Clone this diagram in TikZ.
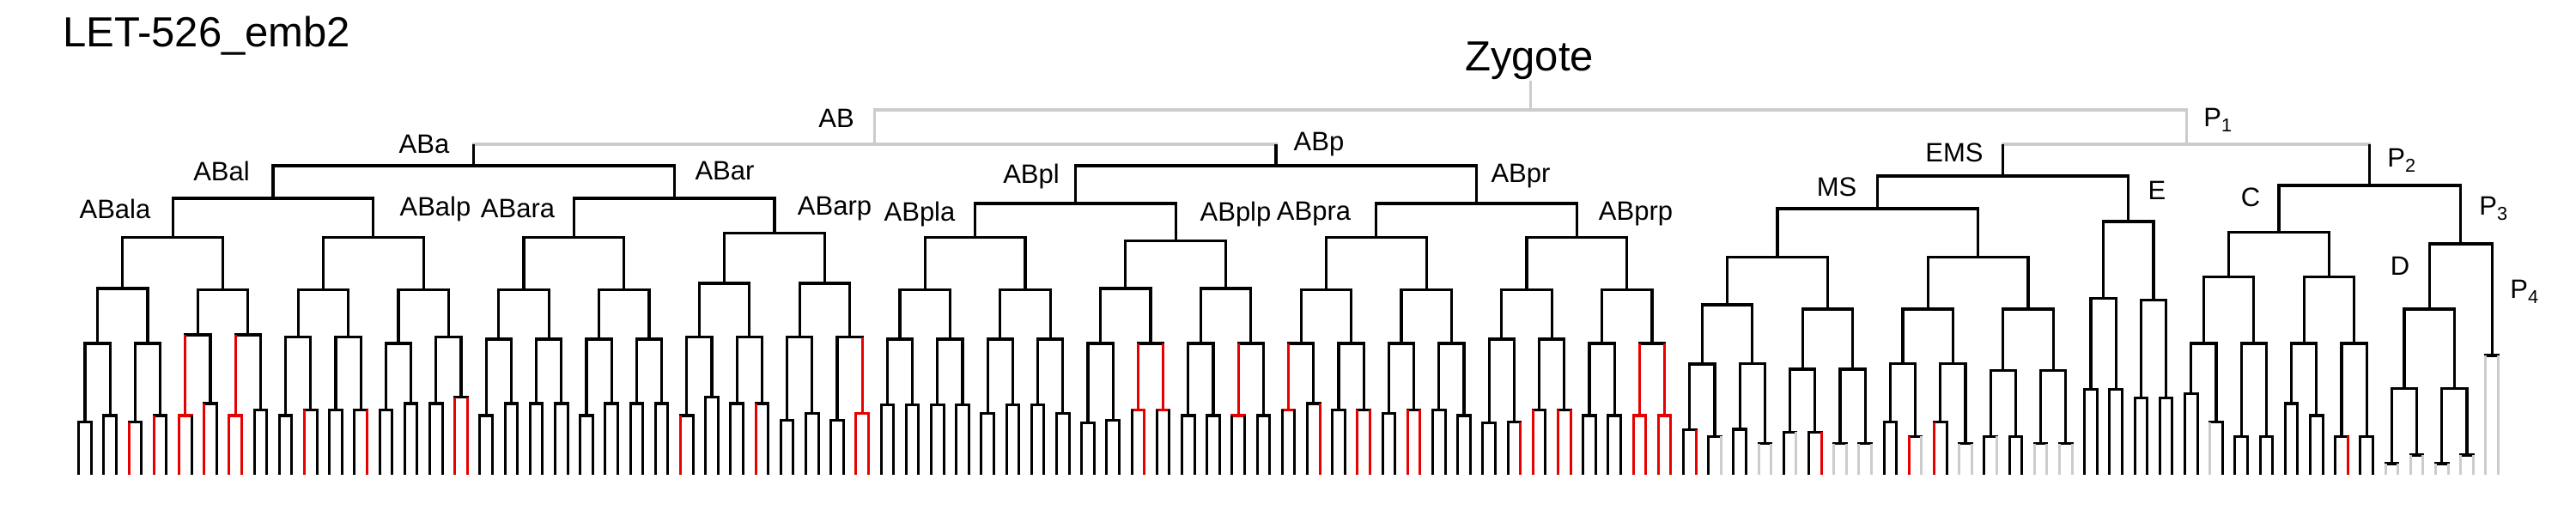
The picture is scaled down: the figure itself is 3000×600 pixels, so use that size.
\documentclass[tikz,border=0pt]{standalone}
\usepackage{fontspec}
\setmainfont{Liberation Sans}
\definecolor{K}{RGB}{0,0,0}
\definecolor{R}{RGB}{230,0,0}
\definecolor{G}{RGB}{204,204,204}
\newcommand\ybot{553.3}
\tikzset{vln/.style={line width=3.1pt,line cap=butt},
  hbr/.style={line width=3.1pt,line cap=rect},
  lbl/.style={inner sep=0pt,font=\fontsize{31}{36}\selectfont},
  big/.style={inner sep=0pt,font=\fontsize{49}{56}\selectfont}}
% node: x, ytop, ybar, xleft, xright, colour
\newcommand\Nd[6]{\draw[hbr,#6] (#4,#3) -- (#5,#3);\draw[vln,#6] (#1,#2) -- (#1,#3);}
% leaf: x, ytop, colour
\newcommand\Lf[3]{\draw[vln,#3] (#1,#2) -- (#1,\ybot);}
% pair of leaves: first index, ytop, ybar, parent colour, leaf colours
\newcommand\Pq[6]{\Nd{#1+0.5}{#2}{#3}{#1}{#1+1}{#4}\Lf{#1}{#3}{#5}\Lf{#1+1}{#3}{#6}}
% AB8 skeleton: base, ytop, y8, y16a, y16b, y32 a..d
\newcommand\Abg[9]{%
  \Nd{#1+7.5}{#2}{#3}{#1+3.5}{#1+11.5}{K}%
  \Nd{#1+3.5}{#3}{#4}{#1+1.5}{#1+5.5}{K}%
  \Nd{#1+11.5}{#3}{#5}{#1+9.5}{#1+13.5}{K}%
  \Nd{#1+1.5}{#4}{#6}{#1+0.5}{#1+2.5}{K}%
  \Nd{#1+5.5}{#4}{#7}{#1+4.5}{#1+6.5}{K}%
  \Nd{#1+9.5}{#5}{#8}{#1+8.5}{#1+10.5}{K}%
  \Nd{#1+13.5}{#5}{#9}{#1+12.5}{#1+14.5}{K}}
\begin{document}
\begin{tikzpicture}[x=1pt,y=-1pt]
\useasboundingbox (0,0) rectangle (3000,600);
\begin{scope}[x=14.6pt,xshift=91.7pt]
% Zygote
\Nd{115.8}{94}{128}{63.5}{168.125}{G}
% AB upper
\Nd{63.5}{128}{168}{31.5}{95.5}{G}
\Nd{31.5}{168}{193}{15.5}{47.5}{K}
\Nd{95.5}{168}{193}{79.5}{111.5}{K}
\Nd{15.5}{193}{231}{7.5}{23.5}{K}
\Nd{47.5}{193}{231}{39.5}{55.5}{K}
\Nd{79.5}{193}{237}{71.5}{87.5}{K}
\Nd{111.5}{193}{237}{103.5}{119.5}{K}
% ABala
\Abg{0}{231}{276.7}{336}{337.3}{400}{400}{390}{390}
\Pq{0}{400}{491.7}{K}{K}{K}\Pq{2}{400}{484}{K}{K}{K}
\Pq{4}{400}{491.7}{K}{R}{K}\Pq{6}{400}{484}{K}{R}{K}
\Pq{8}{390}{484}{R}{R}{K}\Pq{10}{390}{470}{K}{R}{K}
\Pq{12}{390}{484}{R}{R}{R}\Pq{14}{390}{477.3}{K}{K}{K}
% ABalp
\Abg{16}{231}{276.7}{337.3}{337.3}{392.7}{392.7}{400}{392.7}
\Pq{16}{392.7}{484}{K}{K}{K}\Pq{18}{392.7}{477.3}{K}{R}{K}
\Pq{20}{392.7}{477.3}{K}{K}{K}\Pq{22}{392.7}{477.3}{K}{K}{R}
\Pq{24}{400}{477.3}{K}{K}{K}\Pq{26}{400}{470}{K}{K}{K}
\Pq{28}{392.7}{470}{K}{K}{K}\Pq{30}{392.7}{462.7}{K}{R}{R}
% ABara
\Abg{32}{231}{276.7}{337.3}{337.3}{395}{395}{395}{395}
\Pq{32}{395}{484}{K}{K}{K}\Pq{34}{395}{470}{K}{K}{K}
\Pq{36}{395}{470}{K}{K}{K}\Pq{38}{395}{470}{K}{K}{K}
\Pq{40}{395}{484}{K}{K}{K}\Pq{42}{395}{470}{K}{K}{K}
\Pq{44}{395}{470}{K}{K}{K}\Pq{46}{395}{470}{K}{K}{K}
% ABarp
\Abg{48}{231}{271.7}{330}{330}{392.7}{392.7}{392.7}{392.7}
\Pq{48}{392.7}{484}{K}{R}{K}\Pq{50}{392.7}{462.7}{K}{K}{K}
\Pq{52}{392.7}{470}{K}{K}{K}\Pq{54}{392.7}{470}{K}{R}{K}
\Pq{56}{392.7}{489.3}{K}{K}{K}\Pq{58}{392.7}{481.7}{K}{K}{K}
\Pq{60}{392.7}{489.3}{K}{K}{K}\Pq{62}{392.7}{481.7}{R}{R}{R}
% ABpla
\Abg{64}{237}{276.7}{337.3}{337.3}{395}{395}{395}{395}
\Pq{64}{395}{471.7}{K}{K}{K}\Pq{66}{395}{471.7}{K}{K}{K}
\Pq{68}{395}{471.7}{K}{K}{K}\Pq{70}{395}{471.7}{K}{K}{K}
\Pq{72}{395}{481.7}{K}{K}{K}\Pq{74}{395}{471.7}{K}{K}{K}
\Pq{76}{395}{471.7}{K}{K}{K}\Pq{78}{395}{481.7}{K}{K}{K}
% ABplp
\Abg{80}{237}{280.7}{336}{336}{400}{400}{400}{400}
\Pq{80}{400}{492.7}{K}{K}{K}\Pq{82}{400}{489.3}{K}{K}{K}
\Pq{84}{400}{477.3}{R}{K}{R}\Pq{86}{400}{477.3}{R}{K}{K}
\Pq{88}{400}{484}{K}{K}{K}\Pq{90}{400}{484}{K}{K}{K}
\Pq{92}{400}{484}{R}{K}{K}\Pq{94}{400}{484}{K}{K}{K}
% ABpra
\Abg{96}{237}{276.7}{337.3}{337.3}{400}{400}{400}{400}
\Pq{96}{400}{477.3}{R}{K}{K}\Pq{98}{400}{470}{K}{K}{R}
\Pq{100}{400}{477.3}{K}{K}{K}\Pq{102}{400}{477.3}{K}{R}{R}
\Pq{104}{400}{481.7}{K}{K}{K}\Pq{106}{400}{477.3}{K}{R}{R}
\Pq{108}{400}{477.3}{K}{K}{K}\Pq{110}{400}{484}{K}{K}{K}
% ABprp
\Abg{112}{237}{276.7}{337.3}{337.3}{395}{395}{400}{400}
\Pq{112}{395}{492.7}{K}{K}{K}\Pq{114}{395}{491.7}{K}{K}{R}
\Pq{116}{395}{477.3}{K}{R}{K}\Pq{118}{395}{477.3}{K}{R}{R}
\Pq{120}{400}{484}{K}{K}{K}\Pq{122}{400}{484}{K}{K}{K}
\Pq{124}{400}{484}{R}{R}{R}\Pq{126}{400}{484}{R}{R}{R}
% P1, EMS, MS
\Nd{168.125}{128}{168}{153.5}{182.75}{G}
\Nd{153.5}{168}{205}{143.5}{163.5}{K}
\Nd{143.5}{205}{243}{135.5}{151.5}{K}
\Nd{135.5}{243}{299.3}{131.5}{139.5}{K}
\Nd{131.5}{299.3}{355}{129.5}{133.5}{K}
\Nd{129.5}{355}{424}{128.5}{130.5}{K}
\Pq{128}{424}{500.7}{K}{K}{R}\Pq{130}{424}{508.3}{K}{K}{G}
\Nd{133.5}{355}{423.3}{132.5}{134.5}{K}
\Pq{132}{423.3}{500}{K}{K}{K}\Pq{134}{423.3}{516.7}{K}{G}{G}
\Nd{139.5}{299.3}{360}{137.5}{141.5}{K}
\Nd{137.5}{360}{430}{136.5}{138.5}{K}
\Pq{136}{430}{503.3}{K}{K}{G}\Pq{138}{430}{503.3}{K}{K}{R}
\Nd{141.5}{360}{430}{140.5}{142.5}{K}
\Pq{140}{430}{516.7}{K}{G}{G}\Pq{142}{430}{516.7}{K}{G}{G}
\Nd{151.5}{243}{299.3}{147.5}{155.5}{K}
\Nd{147.5}{299.3}{360}{145.5}{149.5}{K}
\Nd{145.5}{360}{423.3}{144.5}{146.5}{K}
\Pq{144}{423.3}{491.7}{K}{K}{K}\Pq{146}{423.3}{508.3}{K}{R}{G}
\Nd{149.5}{360}{423.3}{148.5}{150.5}{K}
\Pq{148}{423.3}{491.7}{K}{R}{K}\Pq{150}{423.3}{516.7}{K}{G}{G}
\Nd{155.5}{299.3}{360}{153.5}{157.5}{K}
\Nd{153.5}{360}{431.7}{152.5}{154.5}{K}
\Pq{152}{431.7}{508.3}{K}{K}{G}\Pq{154}{431.7}{508.3}{K}{K}{K}
\Nd{157.5}{360}{431.7}{156.5}{158.5}{K}
\Pq{156}{431.7}{516.7}{K}{G}{G}\Pq{158}{431.7}{516.7}{K}{G}{G}
% E
\Nd{163.5}{205}{258}{161.5}{165.5}{K}
\Nd{161.5}{258}{347.3}{160.5}{162.5}{K}
\Pq{160}{347.3}{453.3}{K}{K}{K}\Pq{162}{347.3}{453.3}{K}{K}{K}
\Nd{165.5}{258}{349.3}{164.5}{166.5}{K}
\Pq{164}{349.3}{463.3}{K}{K}{K}\Pq{166}{349.3}{463.3}{K}{K}{K}
% P2, C
\Nd{182.75}{168}{216}{175.5}{190}{K}
\Nd{175.5}{216}{270.7}{171.5}{179.5}{K}
\Nd{171.5}{270.7}{322.7}{169.5}{173.5}{K}
\Nd{169.5}{322.7}{400}{168.5}{170.5}{K}
\Pq{168}{400}{458.3}{K}{K}{K}\Pq{170}{400}{491.7}{K}{G}{K}
\Nd{173.5}{322.7}{400}{172.5}{174.5}{K}
\Pq{172}{400}{508.3}{K}{K}{K}\Pq{174}{400}{508.3}{K}{K}{K}
\Nd{179.5}{270.7}{322.7}{177.5}{181.5}{K}
\Nd{177.5}{322.7}{400}{176.5}{178.5}{K}
\Pq{176}{400}{470}{K}{K}{K}\Pq{178}{400}{484}{K}{K}{K}
\Nd{181.5}{322.7}{400}{180.5}{182.5}{K}
\Pq{180}{400}{508.3}{K}{K}{R}\Pq{182}{400}{508.3}{K}{K}{K}
% P3, D, P4
\Nd{190}{216}{284}{187.5}{192.5}{K}
\Nd{187.5}{284}{360}{185.5}{189.5}{K}
\Nd{185.5}{360}{452.7}{184.5}{186.5}{K}
\Pq{184}{452.7}{540}{K}{G}{G}\Pq{186}{452.7}{530}{K}{G}{G}
\Nd{189.5}{360}{452.7}{188.5}{190.5}{K}
\Pq{188}{452.7}{540}{K}{G}{G}\Pq{190}{452.7}{530}{K}{G}{G}
\Pq{192}{284}{414}{K}{G}{G}
\end{scope}
% labels
\node[big,anchor=west] (title) at (73,42) {LET-526\_emb2};
\node[big] (zyg) at (1781,71) {Zygote};
\node[lbl] (lAB) at (974,138) {AB};
\node[lbl] (lP1) at (2583,140) {P\textsubscript{1}};
\node[lbl] (lABa) at (494,168) {ABa};
\node[lbl] (lABp) at (1536,168) {ABp};
\node[lbl] (lABal) at (258,199) {ABal};
\node[lbl] (lABar) at (844,199) {ABar};
\node[lbl] (lABpl) at (1201,205) {ABpl};
\node[lbl] (lABpr) at (1771,205) {ABpr};
\node[lbl] (lABala) at (134,243) {ABala};
\node[lbl] (lABalp) at (507,243) {ABalp};
\node[lbl] (lABara) at (603,243) {ABara};
\node[lbl] (lABarp) at (972,243) {ABarp};
\node[lbl] (lABpla) at (1071,249) {ABpla};
\node[lbl] (lABplp) at (1439,249) {ABplp};
\node[lbl] (lABpra) at (1530,249) {ABpra};
\node[lbl] (lABprp) at (1905,249) {ABprp};
\node[lbl] (lEMS) at (2276,178) {EMS};
\node[lbl] (lMS) at (2139,218) {MS};
\node[lbl] (lE) at (2512,222) {E};
\node[lbl] (lP2) at (2797,187) {P\textsubscript{2}};
\node[lbl] (lC) at (2621,230) {C};
\node[lbl] (lP3) at (2904,243) {P\textsubscript{3}};
\node[lbl] (lD) at (2795,310) {D};
\node[lbl] (lP4) at (2940,340) {P\textsubscript{4}};
\end{tikzpicture}
\end{document}
